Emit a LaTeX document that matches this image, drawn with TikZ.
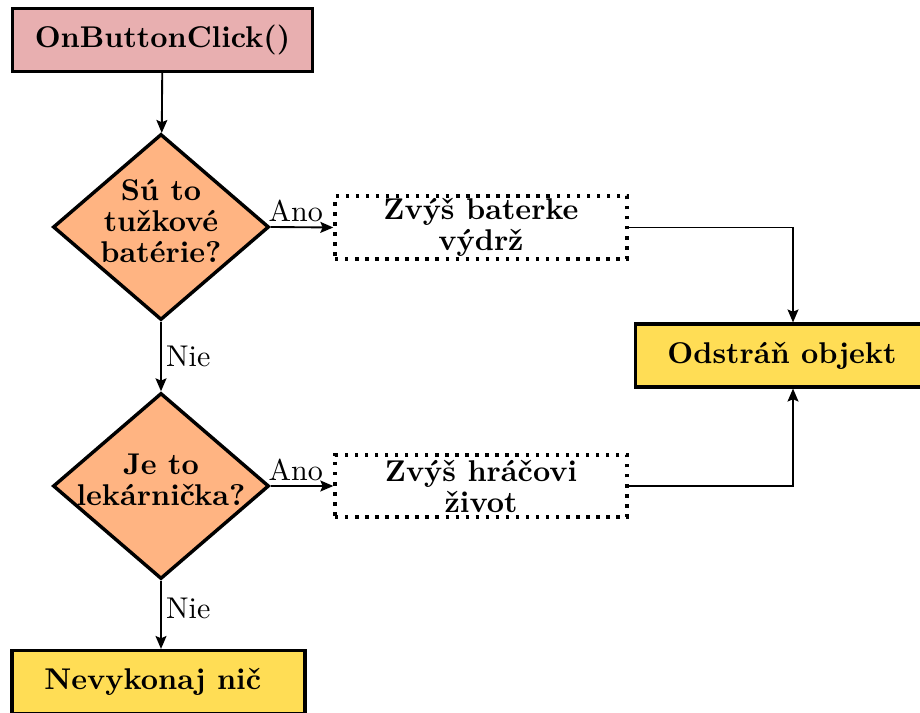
\documentclass[tikz,border=0pt]{standalone}
\usetikzlibrary{shapes.geometric,arrows.meta,calc}
\newlength\pxu
\setlength\pxu{0.3484pt}
\definecolor{startpink}{HTML}{E8AFB0}
\definecolor{decorange}{HTML}{FFB482}
\definecolor{endyellow}{HTML}{FFDD55}
\tikzset{
  txt/.style={font=\bfseries\fontsize{10.45}{10.8}\selectfont, align=center},
  startbox/.style={txt, draw, line width=1.1pt, fill=startpink, rectangle,
    minimum width=300\pxu, minimum height=63\pxu},
  decision/.style={txt, draw, line width=1.2pt, fill=decorange, diamond,
    shape aspect=1.16, inner sep=-4pt, text depth=4.5pt,
    minimum width=216\pxu, minimum height=186\pxu},
  actbox/.style={txt, draw, line width=1.2pt, dash pattern=on 1.2pt off 2.3pt, rectangle,
    inner ysep=0.8pt, minimum width=292\pxu, minimum height=62\pxu},
  endbox/.style={txt, draw, line width=1.1pt, fill=endyellow, rectangle,
    minimum width=293\pxu, minimum height=63\pxu},
  conn/.style={line width=0.65pt, -{Stealth[length=4.5pt,width=3.8pt,inset=0.8pt]}},
  lbl/.style={font=\fontsize{10.45}{12}\selectfont, inner sep=1.5pt}
}
\begin{document}
\begin{tikzpicture}[x=\pxu, y=-\pxu]
\useasboundingbox (0,0) rectangle (920,713);
\clip (0,0) rectangle (920,713);
\node[startbox] (start) at (162.5,40) {OnButtonClick()};
\node[decision] (d1) at (161,227) {Sú to\\tužkové\\batérie?};
\node[decision] (d2) at (161,486) {Je to\\lekárnička?};
\node[actbox] (zb) at (481,227.5) {Zvýš baterke\\výdrž};
\node[actbox] (zh) at (481,486) {Zvýš hráčovi\\život};
\node[endbox] (od) at (782,355.5) {Odstráň objekt};
\node[endbox] (nv) at (158.5,682) {Nevykonaj nič\ };

\draw[conn] (start) -- (d1);
\draw[conn] (d1.east) -- node[lbl, above, pos=0.4] {Ano} (zb.west);
\draw[conn] (d1.south) -- node[lbl, right, midway] {Nie} (d2.north);
\draw[conn] (d2.east) -- node[lbl, above, pos=0.4] {Ano} (zh.west);
\draw[conn] (d2.south) -- node[lbl, right, pos=0.4] {Nie} (d2.south |- nv.north);
\draw[conn] (zb.east) -| ([xshift=11\pxu]od.north);
\draw[conn] (zh.east) -| ([xshift=11\pxu]od.south);
\end{tikzpicture}
\end{document}
